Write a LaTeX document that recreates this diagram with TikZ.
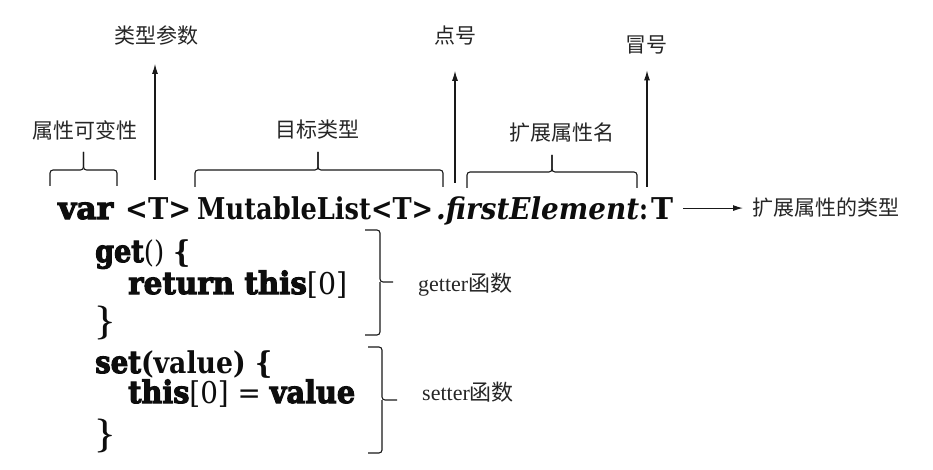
\documentclass[tikz,border=0pt]{standalone}
\usepackage{fontspec}
\usepackage{graphicx}
\usetikzlibrary{arrows.meta}
\newfontfamily\cjk{Noto Sans CJK SC}
\newfontfamily\kwf{DejaVu Serif}[FakeBold=3.5]
\newfontfamily\cdf{DejaVu Serif}
\newfontfamily\rgf{DejaVu Serif}
\newfontfamily\lblf{Liberation Serif}
\newcommand\kw[1]{{\kwf\bfseries\fontsize{31}{31}\selectfont #1}}
\newcommand\rg[1]{{\rgf\mdseries\fontsize{30}{30}\selectfont #1}}
\newcommand\fitw[2]{\resizebox{#1pt}{\height}{#2}}
\newcommand\topbr[6]{%
  \draw[br] (#1,#5) -- (#1,#4) -- (#3,#4) -- (#3,#6);
  \draw[br] (#2,#5) -- (#2,#4) -- (#3,#4) -- (#3,#6);}
\tikzset{
  code/.style={inner sep=0pt, anchor=base west, text=black!95,
    font=\cdf\bfseries\fontsize{30}{30}\selectfont},
  cbrace/.style={inner sep=0pt, anchor=base west, text=black!95,
    font=\fontsize{34}{34}\selectfont\bfseries},
  lab/.style={inner sep=0pt, text=black!85, font=\cjk\fontsize{21}{21}\selectfont},
  lab2/.style={inner sep=0pt, anchor=west, text=black!85, font=\lblf\fontsize{22}{22}\selectfont},
  br/.style={draw=black!90, line width=1.1pt, rounded corners=3pt},
  arr/.style={draw=black!90, line width=1.1pt, -{Latex[length=10pt,width=6pt]}},
}
\begin{document}
\begin{tikzpicture}[x=1pt,y=-1pt]
\useasboundingbox[fill=white] (0,0) rectangle (933,470);
% first code line
\node[code] (kvar) at (58,219) {\fitw{55}{\kw{var}}};
\node[code] (tp)   at (125,219) {\fitw{66}{<T>}};
\node[code] (tgt)  at (197,219) {\fitw{236}{MutableList<T>}};
\node[code] (nm)   at (436,219) {\fitw{203}{\itshape .firstElement}};
\node[code] (col)  at (639,219) {\fitw{9}{:}};
\node[code] (ty)   at (651,219) {\fitw{22}{T}};
% accessor lines
\node[code] (lget)  at (95,262)  {\fitw{95}{\kw{get}\rg{()} \{}};
\node[code] (lret)  at (128,294) {\fitw{219}{\kw{return this}\rg{[0]}}};
\node[cbrace] (lc1) at (95,331)  {\}};
\node[code] (lset)  at (95,373)  {\fitw{177}{\kw{set}(value) \{}};
\node[code] (lthis) at (128,403) {\fitw{227}{\kw{this}\rg{[0] = }\kw{value}}};
\node[cbrace] (lc2) at (95,444)  {\}};
% labels
\node[lab] (lTP)  at (156,36)  {类型参数};
\node[lab] (lDot) at (455,36)  {点号};
\node[lab] (lCol) at (646,45)  {冒号};
\node[lab] (lMut) at (85,130)  {属性可变性};
\node[lab] (lTgt) at (317,130) {目标类型};
\node[lab] (lExt) at (562,133) {扩展属性名};
\node[lab, anchor=west] (lRet) at (752,208) {扩展属性的类型};
\node[lab2] (lGet) at (418,285) {getter{\cjk 函数}};
\node[lab2] (lSet) at (422,392) {setter{\cjk 函数}};
% arrows
\coordinate (aTP)  at (155,180);
\coordinate (aDot) at (455,183);
\coordinate (aCol) at (647,187);
\draw[arr, shorten >=18pt] (aTP) -- (aTP |- lTP.south);
\draw[arr, shorten >=25pt] (aDot) -- (aDot |- lDot.south);
\draw[arr, shorten >=16pt] (aCol) -- (aCol |- lCol.south);
\draw[arr, shorten <=10pt, shorten >=9pt] (ty.east) -- (ty.east -| lRet.west);
% braces above
\topbr{50}{117}{83.5}{170}{186}{152}
\topbr{195}{443}{318}{170}{187}{152}
\topbr{467}{637}{552}{172}{188}{155}
% right brackets
\draw[br] (365,230) -- (380,230) -- (380,282) -- (393,282);
\draw[br] (365,335) -- (380,335) -- (380,282);
\draw[br] (368,347) -- (382,347) -- (382,400) -- (397,400);
\draw[br] (368,453) -- (382,453) -- (382,400);
\end{tikzpicture}
\end{document}
